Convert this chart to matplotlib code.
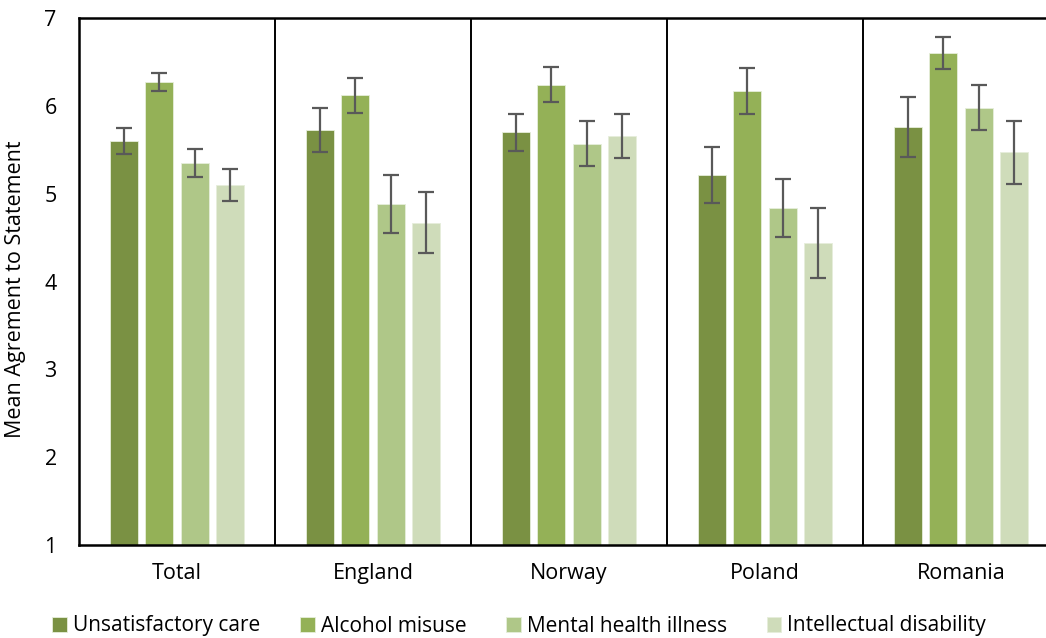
import numpy as np
import matplotlib
matplotlib.use("Agg")
import matplotlib.pyplot as plt

plt.rcParams['font.family'] = ['Open Sans', 'DejaVu Sans']

# data
groups = ["Total", "England", "Norway", "Poland", "Romania"]
series = ["Unsatisfactory care", "Alcohol misuse", "Mental health illness", "Intellectual disability"]
unsat_care = [5.60, 5.72, 5.70, 5.21, 5.76]
alcohol = [6.27, 6.12, 6.24, 6.17, 6.60]
mental = [5.35, 4.88, 5.57, 4.84, 5.98]
intellectual = [5.10, 4.67, 5.66, 4.44, 5.47]
unsat_err = [0.15, 0.25, 0.21, 0.32, 0.34]
alcohol_err = [0.10, 0.20, 0.20, 0.26, 0.18]
mental_err = [0.16, 0.33, 0.26, 0.33, 0.26]
intellectual_err = [0.18, 0.35, 0.25, 0.40, 0.36]
yticks = [1, 2, 3, 4, 5, 6, 7]

colors = ["#7a9143", "#94b157", "#afc788", "#cfdcba"]

values = [unsat_care, alcohol, mental, intellectual]
errors = [unsat_err, alcohol_err, mental_err, intellectual_err]

fig = plt.figure(figsize=(10.46, 6.38), dpi=100)
W, H = 1046, 638
ax = fig.add_axes([79 / W, (H - 545) / H, (1059 - 79) / W, (545 - 18) / H])

x = np.arange(len(groups))
step = 0.181
width = 0.143
offsets = (np.arange(4) - 1.5) * step

handles = []
for k in range(4):
    b = ax.bar(x + offsets[k], np.array(values[k]) - 1, width, bottom=1,
               color=colors[k], edgecolor="#e6eedb", linewidth=0.6,
               label=series[k], zorder=2)
    ax.errorbar(x + offsets[k], values[k], yerr=errors[k], fmt="none",
                ecolor="#595959", elinewidth=1.6, capsize=6, capthick=1.6, zorder=3)
    handles.append(b)

for sep in np.arange(0.5, len(groups) - 0.5, 1.0):
    ax.axvline(sep, color="black", linewidth=1.4, zorder=1)

ax.set_xlim(-0.5, len(groups) - 0.5)
ax.set_ylim(1, 7)
ax.set_yticks(yticks)
ax.set_xticks(x)
ax.set_xticklabels(groups)
ax.tick_params(axis="both", length=0, labelsize=15.5)
ax.tick_params(axis="y", pad=16)
ax.tick_params(axis="x", pad=13)

for s in ["left", "bottom", "top", "right"]:
    ax.spines[s].set_linewidth(1.8)
    ax.spines[s].set_color("black")

ax.set_ylabel("Mean Agrement to Statement", fontsize=15.5)
ax.yaxis.set_label_coords(-0.054, 0.485)

fig.legend(handles=handles, labels=series, loc="center left",
           bbox_to_anchor=(44 / W, 1 - 626 / H), ncol=4, frameon=False,
           fontsize=15, handlelength=0.7, handleheight=0.7,
           handletextpad=0.3, columnspacing=1.9, borderaxespad=0)

fig.savefig("out.png", dpi=100)
